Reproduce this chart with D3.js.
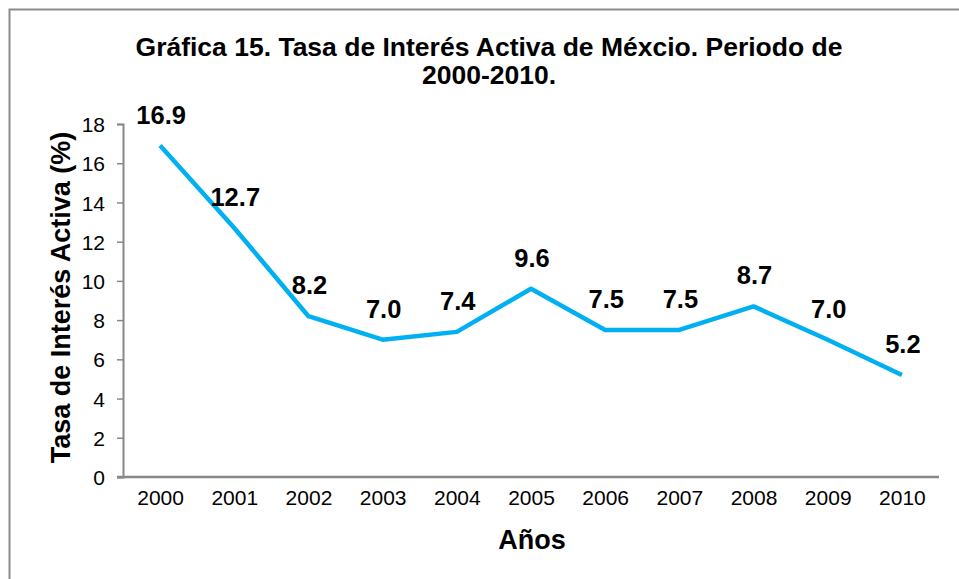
<!DOCTYPE html>
<html lang="es">
<head>
    <meta charset="UTF-8">
    <title>Tasa de Interés Activa de México</title>
    <style>
        body { margin: 0; background: #fff; }
        text { font-family: "Liberation Sans", Arial, sans-serif; }
    </style>
    <script src="https://d3js.org/d3.v7.min.js"></script>
</head>
<body>
    <script>
        const years = ["2000", "2001", "2002", "2003", "2004", "2005", "2006", "2007", "2008", "2009", "2010"];
        const rates = [16.9, 12.7, 8.2, 7.0, 7.4, 9.6, 7.5, 7.5, 8.7, 7.0, 5.2];
        const yTicks = [0, 2, 4, 6, 8, 10, 12, 14, 16, 18];

        const WIDTH = 959;
        const HEIGHT = 579;
        const LEFT = 123, RIGHT = 939, TOP = 124, BOTTOM = 477;
        const FONT = "'Liberation Sans', Arial, sans-serif";

        const svg = d3.select("body").append("svg")
            .attr("width", WIDTH)
            .attr("height", HEIGHT);

        // outer frame (runs off the right and bottom edge)
        svg.append("rect")
            .attr("x", 9.5).attr("y", 9.5)
            .attr("width", 1000).attr("height", 1000)
            .attr("fill", "none")
            .attr("stroke", "#8c8c8c")
            .attr("stroke-width", 2);

        const x = d3.scalePoint().domain(years).range([LEFT, RIGHT]).padding(0.5);
        const y = d3.scaleLinear().domain([0, 18]).range([BOTTOM, TOP]);

        // y axis
        const yAxis = svg.append("g")
            .attr("transform", `translate(${LEFT},0)`)
            .call(d3.axisLeft(y).tickValues(yTicks).tickSize(6).tickPadding(12).tickFormat(d3.format("d")));
        yAxis.select(".domain").attr("stroke", "#888").attr("stroke-width", 2);
        yAxis.selectAll(".tick line").attr("stroke", "#888").attr("stroke-width", 1.5);
        yAxis.selectAll(".tick text").attr("font-size", 21).attr("fill", "#000")
            .attr("dy", "0.36em")
            .style("font-family", FONT);

        // x axis
        const xAxis = svg.append("g")
            .attr("transform", `translate(0,${BOTTOM})`)
            .call(d3.axisBottom(x).tickSize(0).tickPadding(13));
        xAxis.select(".domain").attr("d", `M${LEFT - 6},0H${RIGHT}`)
            .attr("stroke", "#888").attr("stroke-width", 2.5);
        xAxis.selectAll(".tick text").attr("font-size", 21).attr("fill", "#000")
            .style("font-family", FONT);

        // line
        const line = d3.line()
            .x((d, i) => x(years[i]))
            .y(d => y(d));

        svg.append("path")
            .datum(rates)
            .attr("d", line)
            .attr("fill", "none")
            .attr("stroke", "#00B0F0")
            .attr("stroke-width", 4.5)
            .attr("stroke-linejoin", "round");

        // data labels
        svg.selectAll(".label")
            .data(rates)
            .enter()
            .append("text")
            .attr("class", "label")
            .attr("x", (d, i) => x(years[i]) + 1)
            .attr("y", d => y(d) - 22)
            .attr("text-anchor", "middle")
            .attr("font-size", 25.5)
            .attr("font-weight", "bold")
            .text(d => d.toFixed(1));

        // title
        const title = svg.append("text")
            .attr("text-anchor", "middle")
            .attr("font-size", 26.5)
            .attr("font-weight", "bold");
        title.append("tspan").attr("x", 489).attr("y", 56)
            .text("Gráfica 15. Tasa de Interés Activa de Méxcio. Periodo de");
        title.append("tspan").attr("x", 489).attr("y", 84)
            .text("2000-2010.");

        // axis titles
        svg.append("text")
            .attr("transform", `translate(70,${(TOP + BOTTOM) / 2 -3}) rotate(-90)`)
            .attr("text-anchor", "middle")
            .attr("font-size", 27)
            .attr("font-weight", "bold")
            .text("Tasa de Interés Activa (%)");

        svg.append("text")
            .attr("x", 532)
            .attr("y", 549)
            .attr("text-anchor", "middle")
            .attr("font-size", 27)
            .attr("font-weight", "bold")
            .text("Años");
    </script>
</body>
</html>
